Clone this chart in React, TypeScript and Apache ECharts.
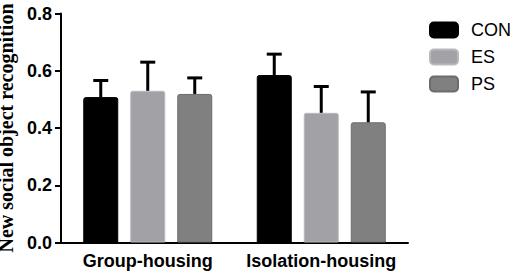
import React, { useEffect, useRef } from "react";
import * as echarts from "echarts";

const categories = ["Group-housing", "Isolation-housing"];
const seriesNames = ["CON", "ES", "PS"];
const conMean = [0.508, 0.585];
const conErr = [0.058, 0.073];
const esMean = [0.53, 0.453];
const esErr = [0.1, 0.092];
const psMean = [0.519, 0.42];
const psErr = [0.056, 0.106];
const yTicks = { min: 0, max: 0.8, interval: 0.2 };
const yTitle = "New social object recognition";

const BAR_W = 35;
const BAR_GAP = 12;
const SANS = "'Liberation Sans', Arial, sans-serif";
const SERIF = "'Liberation Serif', 'Times New Roman', serif";

const colors = ["#000000", "#a2a2a6", "#808080"];
const borders = ["#000000", "#b9b9bc", "#6c6c6c"];

export default function App() {
  const ref = useRef<HTMLDivElement>(null);
  useEffect(() => {
    if (!ref.current) return;
    const chart = echarts.init(ref.current, null, { renderer: "svg" });
    const means = [conMean, esMean, psMean];
    const errs = [conErr, esErr, psErr];

    const barSeries = seriesNames.map((name, i) => ({
      name,
      type: "bar",
      data: means[i],
      barWidth: BAR_W,
      barGap: `${(BAR_GAP / BAR_W) * 100}%`,
      itemStyle: {
        color: colors[i],
        borderColor: borders[i],
        borderWidth: 1,
        borderRadius: [2, 2, 0, 0],
      },
      z: 2,
    }));

    const errSeries = seriesNames.map((name, i) => {
      const offset = (BAR_W + BAR_GAP) * (i - 1);
      return {
        name: name + "-err",
        type: "custom",
        z: 5,
        data: means[i].map((m, k) => [k, m, errs[i][k]]),
        encode: { x: 0, y: 1 },
        renderItem: (params: any, api: any) => {
          const idx = api.value(0);
          const m = api.value(1);
          const e = api.value(2);
          const base = api.coord([idx, m]);
          const top = api.coord([idx, m + e]);
          const x = base[0] + offset;
          return {
            type: "group",
            children: [
              {
                type: "line",
                shape: { x1: x, y1: base[1], x2: x, y2: top[1] },
                style: { stroke: "#000", lineWidth: 3 },
              },
              {
                type: "line",
                shape: { x1: x - 7.5, y1: top[1], x2: x + 7.5, y2: top[1] },
                style: { stroke: "#000", lineWidth: 3 },
              },
            ],
          };
        },
      };
    });

    chart.setOption({
      animation: false,
      backgroundColor: "#ffffff",
      grid: {
        left: 61,
        right: 102,
        top: 13.5,
        bottom: 29.5,
        containLabel: false,
        outerBoundsMode: "none",
      },
      legend: {
        data: seriesNames,
        orient: "vertical",
        left: 429,
        top: 21,
        padding: 0,
        itemWidth: 28,
        itemHeight: 15,
        itemGap: 9,
        icon: "roundRect",
        textStyle: {
          fontFamily: SANS,
          fontSize: 18,
          color: "#000",
          padding: [0, 0, 0, 8],
        },
      },
      xAxis: {
        type: "category",
        data: categories,
        axisLine: { lineStyle: { color: "#000", width: 2 } },
        axisTick: { alignWithLabel: true, length: 5, lineStyle: { color: "#000", width: 2 } },
        axisLabel: {
          interval: 0,
          fontFamily: SANS,
          fontSize: 18,
          fontWeight: "bold",
          color: "#000",
          margin: 9,
        },
      },
      yAxis: {
        type: "value",
        min: yTicks.min,
        max: yTicks.max,
        interval: yTicks.interval,
        name: yTitle,
        nameLocation: "middle",
        nameGap: 39,
        nameTextStyle: {
          fontFamily: SERIF,
          fontSize: 20,
          lineHeight: 18,
          fontWeight: "bold",
          color: "#000",
        },
        splitLine: { show: false },
        axisLine: { show: true, lineStyle: { color: "#000", width: 2 } },
        axisTick: { show: true, length: 6, lineStyle: { color: "#000", width: 2 } },
        axisLabel: {
          fontFamily: SANS,
          fontSize: 18,
          fontWeight: "bold",
          color: "#000",
          margin: 9,
          formatter: (v: number) => v.toFixed(1),
        },
      },
      series: [...barSeries, ...errSeries],
    });
    return () => chart.dispose();
  }, []);
  return (
    <div
      ref={ref}
      style={{ position: "fixed", left: 0, top: 0, width: 510, height: 272 }}
    />
  );
}
